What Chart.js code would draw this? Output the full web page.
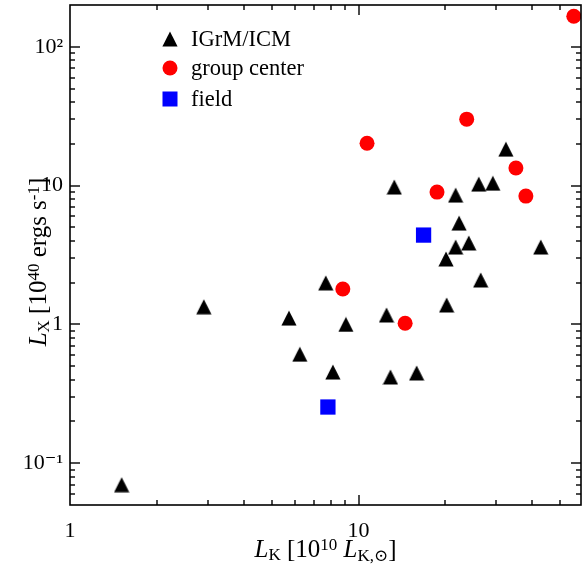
<!DOCTYPE html>
<html>
<head>
<meta charset="utf-8">
<script src="https://cdn.jsdelivr.net/npm/chart.js@4/dist/chart.umd.min.js"></script>
<style>
  html, body { margin: 0; padding: 0; background: #fff; }
  #wrap { width: 582px; height: 572px; }
</style>
</head>
<body>
<div id="wrap"><canvas id="lxlk" width="582" height="572"></canvas></div>
<script>
// IGrM/ICM (triangles)
const igrmX = [1.51, 2.91, 5.74, 6.26, 7.70, 8.15, 9.04, 12.5, 12.9, 13.3, 15.9, 20.1, 20.2, 21.7, 21.7, 22.3, 24.1, 26.1, 26.5, 29.2, 32.4, 42.8];
const igrmY = [0.070, 1.34, 1.11, 0.61, 1.99, 0.454, 1.00, 1.17, 0.418, 9.76, 0.447, 2.96, 1.38, 3.61, 8.54, 5.37, 3.86, 10.25, 2.09, 10.4, 18.3, 3.61];

// group center (circles)
const groupX = [8.82, 10.7, 14.5, 18.7, 23.7, 35.1, 38.0, 55.7];
const groupY = [1.80, 20.2, 1.02, 8.98, 30.1, 13.4, 8.40, 166];

// field (squares)
const fieldX = [7.83, 16.8];
const fieldY = [0.254, 4.40];

const xTickValues = [1, 10];
const xTickLabels = ['1', '10'];
const yTickValues = [0.1, 1, 10, 100];
const yTickLabels = ['10\u207B\u00B9', '1', '10', '10\u00B2'];

const SERIF = '"Liberation Serif", "DejaVu Serif", serif';

// triangle marker (centered box)
const tri = document.createElement('canvas');
tri.width = 16; tri.height = 16;
(function () {
    const c = tri.getContext('2d');
    c.fillStyle = '#000';
    c.beginPath();
    c.moveTo(8, 0.5);
    c.lineTo(15.6, 15.5);
    c.lineTo(0.4, 15.5);
    c.closePath();
    c.fill();
})();

function pts(xs, ys) {
    return xs.map((x, i) => ({ x: x, y: ys[i] }));
}

// every 1..9 x 10^n inside the range, used for the inward tick marks
function logTicks(min, max) {
    const out = [];
    for (let e = Math.floor(Math.log10(min)); e <= Math.ceil(Math.log10(max)); e++) {
        for (let m = 1; m < 10; m++) {
            const v = +(m * Math.pow(10, e)).toPrecision(6);
            if (v >= min && v <= max) out.push(v);
        }
    }
    return out;
}

function isDecade(v) {
    const l = Math.log10(v);
    return Math.abs(l - Math.round(l)) < 1e-9;
}

function findLabel(vals, labels, v) {
    for (let i = 0; i < vals.length; i++) {
        if (Math.abs(vals[i] - v) / vals[i] < 1e-6) return labels[i];
    }
    return null;
}

function drawRich(ctx, parts, x, y) {
    let w = 0;
    parts.forEach(p => {
        ctx.font = (p.italic ? 'italic ' : '') + p.size + 'px ' + SERIF;
        p.w = ctx.measureText(p.t).width;
        w += p.w;
    });
    let cx = x - w / 2;
    parts.forEach(p => {
        ctx.font = (p.italic ? 'italic ' : '') + p.size + 'px ' + SERIF;
        ctx.fillText(p.t, cx, y + (p.dy || 0));
        cx += p.w;
    });
}

const framePlugin = {
    id: 'frame',
    afterDatasetsDraw(chart) {
        const ctx = chart.ctx;
        const a = chart.chartArea;
        const xs = chart.scales.x, ys = chart.scales.y;
        ctx.save();
        ctx.fillStyle = '#000';
        // inward tick marks on all four sides
        logTicks(xs.min, xs.max).forEach(v => {
            const px = Math.round(xs.getPixelForValue(v));
            if (px <= a.left + 1 || px >= a.right - 1) return;
            const len = isDecade(v) ? 10 : 5;
            ctx.fillRect(px - 0.7, a.bottom - len, 1.4, len);
            ctx.fillRect(px - 0.7, a.top, 1.4, len);
        });
        logTicks(ys.min, ys.max).forEach(v => {
            const py = Math.round(ys.getPixelForValue(v));
            if (py <= a.top + 1 || py >= a.bottom - 1) return;
            const len = isDecade(v) ? 10 : 5;
            ctx.fillRect(a.left, py - 0.7, len, 1.4);
            ctx.fillRect(a.right - len, py - 0.7, len, 1.4);
        });
        ctx.strokeStyle = '#000';
        ctx.lineWidth = 1.6;
        ctx.strokeRect(a.left, a.top, a.right - a.left, a.bottom - a.top);
        ctx.restore();
    },
    afterDraw(chart) {
        const ctx = chart.ctx;
        const a = chart.chartArea;
        ctx.save();
        ctx.fillStyle = '#000';
        ctx.textBaseline = 'alphabetic';

        // x title
        drawRich(ctx, [
            { t: 'L', size: 25, italic: true },
            { t: 'K', size: 17, dy: 3 },
            { t: ' [10', size: 25 },
            { t: '10', size: 17, dy: -7 },
            { t: ' ', size: 25 },
            { t: 'L', size: 25, italic: true },
            { t: 'K,\u2299', size: 17, dy: 4 },
            { t: ']', size: 25 }
        ], (a.left + a.right) / 2, 557);

        // y title
        ctx.save();
        ctx.translate(46, 262);
        ctx.rotate(-Math.PI / 2);
        drawRich(ctx, [
            { t: 'L', size: 25, italic: true },
            { t: 'X', size: 17, dy: 3 },
            { t: ' [10', size: 25 },
            { t: '40', size: 17, dy: -7 },
            { t: ' ergs s', size: 25 },
            { t: '-1', size: 17, dy: -7 },
            { t: ']', size: 25 }
        ], 0, 0);
        ctx.restore();

        // legend
        const items = [
            { label: 'IGrM/ICM', y: 39 },
            { label: 'group center', y: 68 },
            { label: 'field', y: 99 }
        ];
        ctx.font = '22.5px ' + SERIF;
        items.forEach((it, i) => {
            const ds = chart.data.datasets[i];
            if (i === 0) {
                ctx.drawImage(tri, 170 - 8, it.y - 8);
            } else if (i === 1) {
                ctx.fillStyle = ds.backgroundColor;
                ctx.beginPath();
                ctx.arc(170, it.y, 7.5, 0, Math.PI * 2);
                ctx.fill();
            } else {
                ctx.fillStyle = ds.backgroundColor;
                ctx.fillRect(170 - 7.5, it.y - 7.5, 15, 15);
            }
            ctx.fillStyle = '#000';
            ctx.fillText(it.label, 191, it.y + 7);
        });
        ctx.restore();
    }
};

const tickFont = { family: SERIF, size: 22 };

new Chart(document.getElementById('lxlk'), {
    type: 'scatter',
    data: {
        datasets: [
            {
                label: 'IGrM/ICM',
                data: pts(igrmX, igrmY),
                pointStyle: tri,
                backgroundColor: '#000000',
                borderWidth: 0
            },
            {
                label: 'group center',
                data: pts(groupX, groupY),
                pointStyle: 'circle',
                pointRadius: 7.5,
                backgroundColor: '#ff0000',
                borderWidth: 0
            },
            {
                label: 'field',
                data: pts(fieldX, fieldY),
                pointStyle: 'rect',
                pointRadius: 10.8,
                backgroundColor: '#0000ff',
                borderWidth: 0
            }
        ]
    },
    options: {
        responsive: false,
        animation: false,
        devicePixelRatio: 1,
        layout: { autoPadding: false, padding: { top: 5, right: 1, left: 0, bottom: 0 } },
        plugins: {
            legend: { display: false },
            tooltip: { enabled: false }
        },
        elements: { point: { hoverRadius: 7.5 } },
        scales: {
            x: {
                type: 'logarithmic',
                min: 1,
                max: 59,
                grid: { display: false, drawTicks: false },
                border: { display: false },
                afterBuildTicks: s => { s.ticks = logTicks(s.min, s.max).map(v => ({ value: v })); },
                afterFit: s => { s.height = 67; s.paddingLeft = 0; s.paddingRight = 0; },
                ticks: {
                    autoSkip: false,
                    maxRotation: 0,
                    padding: 13,
                    color: '#000',
                    font: tickFont,
                    callback: v => findLabel(xTickValues, xTickLabels, v) || ''
                }
            },
            y: {
                type: 'logarithmic',
                min: 0.05,
                max: 200,
                grid: { display: false, drawTicks: false },
                border: { display: false },
                afterBuildTicks: s => { s.ticks = logTicks(s.min, s.max).map(v => ({ value: v })); },
                afterFit: s => { s.width = 70; s.paddingTop = 0; s.paddingBottom = 0; },
                ticks: {
                    autoSkip: false,
                    padding: 7,
                    color: '#000',
                    font: tickFont,
                    callback: v => findLabel(yTickValues, yTickLabels, v) || ''
                }
            }
        }
    },
    plugins: [framePlugin]
});
</script>
</body>
</html>
